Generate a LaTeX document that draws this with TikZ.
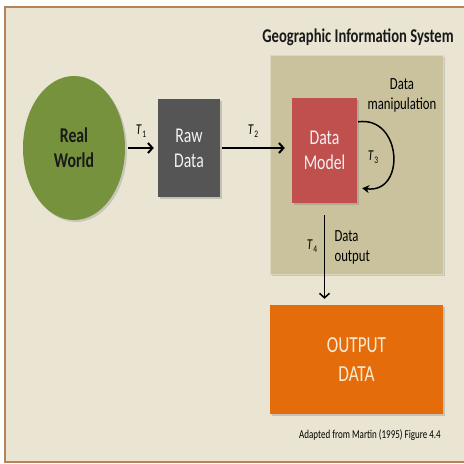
\documentclass[tikz,border=0pt]{standalone}
\usepackage{fontspec}
\setmainfont{Carlito}[FakeStretch=0.75]
\usetikzlibrary{shapes.geometric,arrows.meta,shadows}
\definecolor{cream}{HTML}{EAE5D2}
\definecolor{framebrown}{HTML}{B5835A}
\definecolor{green3}{HTML}{76923C}
\definecolor{grey3}{HTML}{555555}
\definecolor{khaki3}{HTML}{C9C29D}
\definecolor{khakiedge}{HTML}{DDD8BC}
\definecolor{red3}{HTML}{C0504D}
\definecolor{orange3}{HTML}{E46C0A}
\definecolor{boxtext}{HTML}{F2F2F2}
\definecolor{outtext}{HTML}{F8EBD6}
\newcommand{\tlab}[1]{\textit{T}\kern0.5pt\raisebox{-3pt}{\fontsize{10}{12}\selectfont#1}}

\begin{document}
\begin{tikzpicture}[x=1pt, y=-1pt,
    every node/.style={font=\fontsize{17}{20}\selectfont},
    block/.style={rectangle, inner sep=0pt, align=center, text=boxtext,
      font=\fontsize{21}{25}\selectfont,
      drop shadow={opacity=0.35, shadow xshift=2pt, shadow yshift=-2pt}},
    flow/.style={line width=2pt, -{Straight Barb[length=4.5pt,width=10pt]}},
    tlabel/.style={font=\fontsize{15}{17}\selectfont}]

    % Page and frame
    \useasboundingbox (0,0) rectangle (464,464);
    \fill[white] (0,0) rectangle (464,464);
    \fill[cream] (5,7) rectangle (464,462);
    \draw[framebrown, line width=1.5pt] (464,7) -- (5,7) -- (5,462) -- (464,462);

    % GIS container and its title
    \node[rectangle, fill=khaki3, draw=khakiedge, line width=1pt,
      minimum width=173pt, minimum height=219pt,
      drop shadow={opacity=0.3, shadow xshift=2pt, shadow yshift=-2pt}] (gis) at (356.5,164.5) {};
    \node[font=\fontsize{19.5}{22}\selectfont\bfseries, text=black!90] (title) at (358,37) {Geographic Information System};

    % The four stages
    \node[ellipse, fill=green3, minimum width=102pt, minimum height=144pt, inner sep=0pt,
      align=center, text=black!90, font=\fontsize{21}{25}\selectfont\bfseries,
      drop shadow={opacity=0.3, shadow xshift=2pt, shadow yshift=-2pt}] (world) at (74,148) {Real\\World};
    \node[block, fill=grey3, minimum width=62pt, minimum height=98pt] (raw) at (189,148) {Raw\\Data};
    \node[block, fill=red3, minimum width=65pt, minimum height=105pt] (model) at (324.5,150.5) {Data\\Model};
    \node[block, fill=orange3, text=outtext, font=\fontsize{23}{29}\selectfont,
      minimum width=173pt, minimum height=109pt] (output) at (356.5,359.5) {OUTPUT\\DATA};

    % Transformations
    \draw[flow, shorten <=3pt, shorten >=4pt] (world) -- (raw);
    \node[tlabel] (t1) at (141,131) {\tlab{1}};

    \draw[flow, shorten <=2pt, shorten >=7pt] (raw.east) -- (raw.east -| model.west);
    \node[tlabel] (t2) at (253,131) {\tlab{2}};

    \draw[line width=1.5pt, -{Stealth[length=7pt,width=8pt]}]
      ([shift={(1pt,-24pt)}]model.north east) .. controls +(44pt,6pt) and +(44pt,-6pt) .. ([shift={(5pt,15pt)}]model.south east);
    \node[tlabel] (t3) at (373,157) {\tlab{3}};
    \node[align=center] (manip) at (402,95) {Data\\manipulation};

    \draw[flow, line width=1.5pt, shorten <=12pt, shorten >=6pt] (model.south) -- (model.south |- output.north);
    \node[tlabel] (t4) at (312,246) {\tlab{4}};
    \node[align=left, anchor=west] (dout) at (331,247) {Data\\output};

    % Source note
    \node[font=\fontsize{12}{14}\selectfont] (note) at (370,435) {Adapted from Martin (1995) Figure 4.4};

\end{tikzpicture}
\end{document}
